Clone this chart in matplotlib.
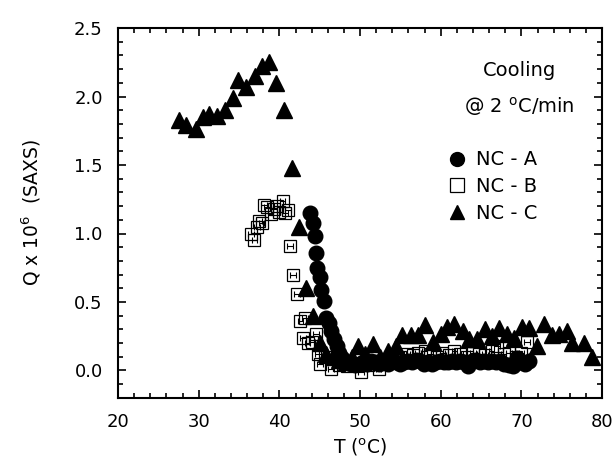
import numpy as np
import matplotlib
matplotlib.use("Agg")
import matplotlib.pyplot as plt
from matplotlib.ticker import MultipleLocator

plt.rcParams['font.family'] = ['DejaVu Sans']

# NC - A (filled circles)
t_a = [43.8, 44.2, 44.4, 44.5, 44.7, 45.0, 45.2, 45.5, 45.8, 46.2, 46.4, 46.8, 47.1, 47.4, 47.8, 48.4,
       48.9, 49.4, 49.9, 50.4, 50.9, 51.4, 51.9, 52.4, 52.9, 53.4, 53.9, 54.4, 54.9, 55.4, 55.9, 56.4,
       56.9, 57.4, 57.9, 58.4, 58.9, 59.4, 59.9, 60.4, 60.9, 61.4, 61.9, 62.4, 62.9, 63.4, 63.9, 64.4,
       64.9, 65.4, 65.9, 66.4, 66.9, 67.4, 67.9, 68.4, 68.9, 69.4, 69.9, 70.4, 70.9]
q_a = [1.15, 1.08, 0.98, 0.86, 0.75, 0.68, 0.59, 0.51, 0.38, 0.35, 0.29, 0.23, 0.18, 0.13, 0.09, 0.06,
       0.05, 0.04, 0.05, 0.06, 0.05, 0.07, 0.06, 0.05, 0.06, 0.05, 0.07, 0.06, 0.05, 0.06, 0.07, 0.06,
       0.08, 0.07, 0.05, 0.06, 0.05, 0.06, 0.07, 0.06, 0.06, 0.07, 0.06, 0.07, 0.06, 0.03, 0.07, 0.08,
       0.06, 0.07, 0.06, 0.07, 0.06, 0.07, 0.05, 0.04, 0.03, 0.09, 0.06, 0.05, 0.07]

# NC - B (open squares)
t_b = [36.5, 36.9, 37.2, 37.5, 37.8, 38.1, 38.5, 38.9, 39.3, 39.7, 40.0, 40.4, 40.7, 41.1, 41.3, 41.7,
       42.2, 42.6, 42.9, 43.2, 43.5, 44.0, 44.5, 44.8, 45.0, 45.6, 46.4, 47.4, 48.4, 49.2, 50.1, 51.0,
       52.3, 53.2, 54.2, 55.0, 55.8, 56.5, 57.2, 58.0, 58.7, 59.5, 60.2, 61.0, 61.7, 62.4, 63.2, 64.0,
       64.8, 65.5, 66.3, 67.0, 67.8, 68.5, 69.3, 70.0, 70.7]
q_b = [1.00, 0.95, 1.05, 1.09, 1.08, 1.21, 1.19, 1.14, 1.18, 1.20, 1.16, 1.24, 1.15, 1.17, 0.91, 0.70,
       0.56, 0.36, 0.24, 0.38, 0.20, 0.21, 0.27, 0.12, 0.05, 0.10, 0.01, 0.04, 0.03, 0.05, -0.01, 0.04,
       0.01, 0.06, 0.08, 0.10, 0.12, 0.11, 0.13, 0.14, 0.12, 0.10, 0.13, 0.11, 0.14, 0.12, 0.10, 0.13,
       0.12, 0.11, 0.14, 0.18, 0.12, 0.13, 0.10, 0.13, 0.21]

# NC - C (filled triangles)
t_c = [27.6, 28.4, 29.6, 30.5, 31.3, 32.3, 33.2, 34.2, 34.9, 35.8, 37.0, 37.9, 38.7, 39.6, 40.6, 41.5,
       42.4, 43.3, 44.2, 45.0, 45.8, 46.6, 47.4, 48.2, 49.0, 49.7, 50.6, 51.6, 52.5, 53.5, 54.4, 55.2,
       56.3, 57.2, 58.1, 59.0, 60.0, 60.8, 61.7, 62.7, 63.5, 64.5, 65.5, 66.4, 67.2, 68.2, 69.1, 70.1,
       71.0, 71.9, 72.8, 73.8, 74.6, 75.7, 76.3, 77.7, 78.7]
q_c = [1.83, 1.79, 1.76, 1.85, 1.87, 1.86, 1.90, 1.99, 2.12, 2.07, 2.15, 2.22, 2.25, 2.10, 1.90, 1.48,
       1.05, 0.60, 0.40, 0.20, 0.12, 0.10, 0.08, 0.06, 0.10, 0.18, 0.12, 0.19, 0.10, 0.14, 0.18, 0.26,
       0.26, 0.26, 0.33, 0.21, 0.27, 0.32, 0.34, 0.29, 0.23, 0.23, 0.30, 0.25, 0.31, 0.27, 0.24, 0.32,
       0.31, 0.18, 0.34, 0.26, 0.27, 0.29, 0.20, 0.20, 0.10]

fig = plt.figure(figsize=(6.15, 4.67), dpi=100)
ax = fig.add_axes([0.192, 0.148, 0.787, 0.792])

hc, = ax.plot(t_c, q_c, ls='none', marker='^', ms=11, color='black', label='NC - C')
ax.errorbar(t_b, q_b, xerr=0.35, fmt='none', ecolor='black', elinewidth=0.8, capsize=2, capthick=0.8)
hb, = ax.plot(t_b, q_b, ls='none', marker='s', ms=9, mfc='none', mec='black', mew=0.9, label='NC - B')
ha, = ax.plot(t_a, q_a, ls='none', marker='o', ms=10.5, color='black', label='NC - A')

ax.set_xlim(20, 80)
ax.set_ylim(-0.2, 2.5)
ax.xaxis.set_major_locator(MultipleLocator(10))
ax.xaxis.set_minor_locator(MultipleLocator(2))
ax.yaxis.set_major_locator(MultipleLocator(0.5))
ax.yaxis.set_minor_locator(MultipleLocator(0.1))
ax.yaxis.set_major_formatter(matplotlib.ticker.FormatStrFormatter('%.1f'))
ax.tick_params(which='both', direction='in', top=True, right=True, labelsize=13, width=1.2)
ax.tick_params(which='major', length=6, pad=11)
ax.tick_params(which='minor', length=3.5)
for s in ax.spines.values():
    s.set_linewidth(1.5)

ax.set_xlabel('T ($^{\\rm o}$C)', fontsize=13.5, labelpad=4)
ax.set_ylabel('Q x 10$^{6}$  (SAXS)', fontsize=13.5, labelpad=22)

ax.text(69.8, 2.19, 'Cooling', fontsize=14, ha='center', va='center')
ax.text(69.8, 1.93, '@ 2 $^{\\rm o}$C/min', fontsize=14, ha='center', va='center')

leg = ax.legend(handles=[ha, hb, hc], frameon=False, loc='upper left',
                bbox_to_anchor=(0.665, 0.69), fontsize=14, handlelength=1.0,
                handletextpad=0.45, labelspacing=0.4, borderaxespad=0)
for h in leg.legend_handles:
    h.set_markersize(10)

fig.savefig('out.png', dpi=100)
